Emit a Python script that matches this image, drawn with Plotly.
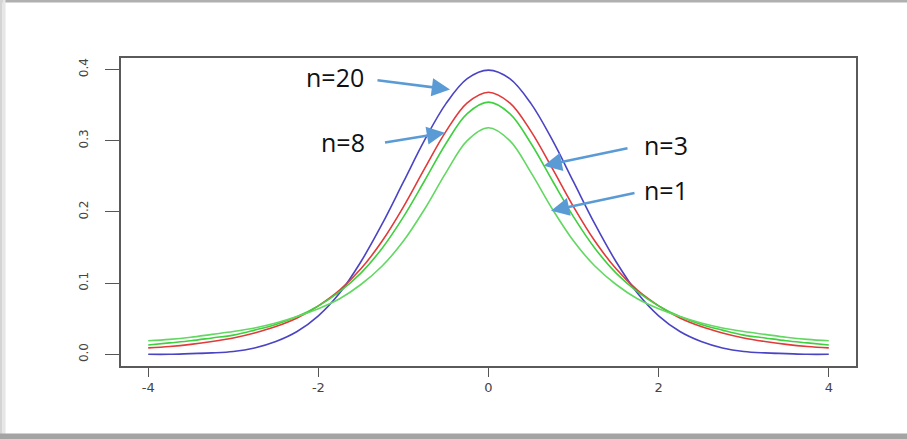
import plotly.graph_objects as go

# ---------------- data ----------------
x_vals = [-4.0, -3.75, -3.5, -3.25, -3.0, -2.75, -2.5, -2.25, -2.0, -1.75, -1.5, -1.25,
          -1.0, -0.75, -0.5, -0.25, 0.0, 0.25, 0.5, 0.75, 1.0, 1.25, 1.5, 1.75,
          2.0, 2.25, 2.5, 2.75, 3.0, 3.25, 3.5, 3.75, 4.0]

y_n20 = [0.000, 0.000, 0.001, 0.002, 0.004, 0.009, 0.018, 0.032, 0.054, 0.086, 0.130, 0.183,
         0.242, 0.301, 0.352, 0.387, 0.399, 0.387, 0.352, 0.301, 0.242, 0.183, 0.130, 0.086,
         0.054, 0.032, 0.018, 0.009, 0.004, 0.002, 0.001, 0.000, 0.000]

y_n8 = [0.009, 0.011, 0.014, 0.018, 0.023, 0.030, 0.039, 0.051, 0.068, 0.090, 0.120, 0.159,
        0.207, 0.261, 0.313, 0.353, 0.368, 0.353, 0.313, 0.261, 0.207, 0.159, 0.120, 0.090,
        0.068, 0.051, 0.039, 0.030, 0.023, 0.018, 0.014, 0.011, 0.009]

y_n3 = [0.013, 0.016, 0.019, 0.023, 0.027, 0.034, 0.042, 0.053, 0.068, 0.088, 0.114, 0.149,
        0.193, 0.244, 0.296, 0.338, 0.354, 0.338, 0.296, 0.244, 0.193, 0.149, 0.114, 0.088,
        0.068, 0.053, 0.042, 0.034, 0.027, 0.023, 0.019, 0.016, 0.013]

y_n1 = [0.019, 0.021, 0.024, 0.028, 0.032, 0.037, 0.044, 0.053, 0.064, 0.078, 0.098, 0.124,
        0.159, 0.204, 0.255, 0.300, 0.318, 0.300, 0.255, 0.204, 0.159, 0.124, 0.098, 0.078,
        0.064, 0.053, 0.044, 0.037, 0.032, 0.028, 0.024, 0.021, 0.019]

series_names = ["n=20", "n=8", "n=3", "n=1"]
series_values = [y_n20, y_n8, y_n3, y_n1]

x_ticks = [-4, -2, 0, 2, 4]
x_tick_labels = ["-4", "-2", "0", "2", "4"]
y_ticks = [0.0, 0.1, 0.2, 0.3, 0.4]
y_tick_labels = ["0.0", "0.1", "0.2", "0.3", "0.4"]

# ---------------- styling ----------------
colors = ["#4a44c4", "#e23a3a", "#3fd03f", "#62d862"]

fig = go.Figure()
for name, vals, col in zip(series_names, series_values, colors):
    fig.add_trace(go.Scatter(x=x_vals, y=vals, mode="lines", name=name,
                             line=dict(color=col, width=1.6, shape="spline", smoothing=1.0),
                             showlegend=False))

axis_common = dict(showgrid=False, zeroline=False, showline=True, mirror=True,
                   linecolor="#5a5a5a", linewidth=1.5, ticks="outside",
                   tickcolor="#555555", tickwidth=1.3)

fig.update_xaxes(range=[-4.32, 4.32], tickvals=x_ticks, ticktext=x_tick_labels,
                 ticklen=9, tickfont=dict(family="DejaVu Sans", size=13, color="#444444"),
                 **axis_common)
fig.update_yaxes(range=[-0.0164, 0.416], tickvals=y_ticks, ticktext=y_tick_labels,
                 ticklen=14, tickangle=-90, ticklabelstandoff=12,
                 tickfont=dict(family="DejaVu Sans", size=12, color="#444444"),
                 **axis_common)

arrow_col = "#5b9bd5"
label_font = dict(family="Open Sans", size=25, color="#111111")

L, R, T, B = 121, 856, 58, 366

def fx(px):
    return (px - L) / (R - L)

def fy(py):
    return (B - py) / (B - T)

# text labels
labels = [("n=20", 334.5, 77), ("n=8", 343, 142), ("n=3", 666, 144.5), ("n=1", 666, 190)]
for txt, px, py in labels:
    fig.add_annotation(x=fx(px), y=fy(py), xref="paper", yref="paper", text=txt,
                       showarrow=False, font=label_font, xanchor="center", yanchor="middle")

# arrows: (tail px, tail py, head px, head py)
arrows = [(376, 80, 450, 89.5), (383.5, 142.7, 445, 132.7),
          (629, 148, 543.7, 165.7), (636, 192.7, 551, 210.7)]
for tx, ty, hx, hy in arrows:
    fig.add_annotation(x=fx(hx), y=fy(hy), xref="paper", yref="paper",
                       ax=tx - hx, ay=ty - hy, axref="pixel", ayref="pixel",
                       text="", showarrow=True, arrowhead=2, arrowsize=1.4,
                       arrowwidth=2.6, arrowcolor=arrow_col, standoff=0)

# card frame (gray edges of the screenshot)
frame = [
    (0, 0, 907, 2.5, "#b0b0b0"),
    (0, 0, 2.5, 439, "#d4d4d4"),
    (2.5, 0, 5.5, 439, "#e6e6e6"),
    (0, 433.5, 907, 439, "#a4a4a4"),
]
for x0, y0, x1, y1, c in frame:
    fig.add_shape(type="rect", xref="paper", yref="paper",
                  x0=fx(x0), x1=fx(x1), y0=fy(y1), y1=fy(y0),
                  line=dict(width=0), fillcolor=c, layer="above")

fig.update_layout(width=907, height=439,
                  margin=dict(l=L, r=907 - R, t=T, b=439 - B),
                  paper_bgcolor="white", plot_bgcolor="white")

fig.write_html("out.html", config={"displayModeBar": False},
               post_script="document.body.style.margin='0px';document.body.style.overflow='hidden';")
